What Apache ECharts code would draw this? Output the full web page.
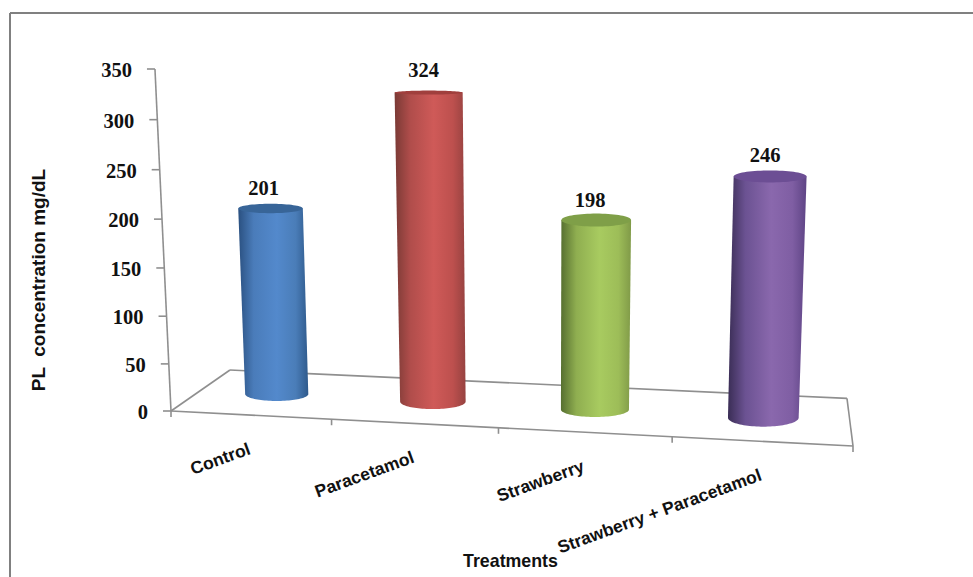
<!DOCTYPE html>
<html>
<head>
<meta charset="utf-8">
<style>html,body{margin:0;padding:0;background:#fff}#chart{width:973px;height:577px}</style>
<script src="https://cdn.jsdelivr.net/npm/echarts@6/dist/echarts.min.js"></script>
</head>
<body>
<div id="chart"></div>
<script>
// Phospholipid concentration per treatment
const categories = ['Control', 'Paracetamol', 'Strawberry', 'Strawberry + Paracetamol'];
const values = [201, 324, 198, 246];
const valueTicks = [0, 50, 100, 150, 200, 250, 300, 350];
const valueAxisName = 'PL  concentration mg/dL';
const categoryAxisName = 'Treatments';

// Cylinder shading across the body: left edge, shoulder, highlight, right shoulder, right edge; then the cap
const shades = [
  ['#2a5080', '#4a7cba', '#5389cc', '#4a7db8', '#2f5a8c', '#386598'],
  ['#7a3a35', '#b04d4b', '#cf5a58', '#bd504e', '#964240', '#a03f3d'],
  ['#566f30', '#8fae50', '#a8cb60', '#9dbd58', '#809a48', '#7f9f48'],
  ['#3a2d55', '#6b5292', '#8a68ad', '#7f5ea3', '#5e4485', '#6c4e94']
];
const capDepth = [4.7, 2, 6.5, 6];
const baseDepth = [7, 7.5, 7.5, 9];
const labelShift = [[-7, -20], [-5, -23], [-6, -20], [-5, -21]];

const GRID = { left: 171, top: 69, width: 682, height: 341 };
const SERIF = '"Liberation Serif", serif';
const SANS = '"Liberation Sans", sans-serif';
const LINE = '#8f8f8f';
const DEG = Math.PI / 180;

// Oblique view: the plot's floor is a quad, uprights lean towards a far vanishing point
const floor = [[171, 411], [853, 446], [847, 398.4], [230, 370]];
const vanish = [541, 8300];
const topOfAxisY = 69;
const view = (function () {
  const [p0, p1, p2, p3] = floor;
  const dx1 = p1[0] - p2[0], dx2 = p3[0] - p2[0], sx = p0[0] - p1[0] + p2[0] - p3[0];
  const dy1 = p1[1] - p2[1], dy2 = p3[1] - p2[1], sy = p0[1] - p1[1] + p2[1] - p3[1];
  const den = dx1 * dy2 - dx2 * dy1;
  const g = (sx * dy2 - dx2 * sy) / den, h = (dx1 * sy - sx * dy1) / den;
  return {
    a: p1[0] - p0[0] + g * p1[0], b: p3[0] - p0[0] + h * p3[0], c: p0[0],
    d: p1[1] - p0[1] + g * p1[1], e: p3[1] - p0[1] + h * p3[1], f: p0[1],
    g: g, h: h, l: (topOfAxisY - p0[1]) / (vanish[1] - topOfAxisY)
  };
})();
function project(u, v, z) {
  const m = view, w = m.g * u + m.h * v + 1 + m.l * z;
  return [
    (m.a * u + m.b * v + m.c + m.l * vanish[0] * z) / w,
    (m.d * u + m.e * v + m.f + m.l * vanish[1] * z) / w
  ];
}
// Turns a position on the flat cartesian system into fractions of the plot box
function toPlot(api, params, cat, val) {
  const pt = api.coord([cat, val]);
  const cs = params.coordSys;
  return [(pt[0] - cs.x) / cs.width, (cs.y + cs.height - pt[1]) / cs.height];
}
function edgeLine(a, b) {
  return {
    type: 'line',
    shape: { x1: a[0], y1: a[1], x2: b[0], y2: b[1] },
    style: { stroke: LINE, lineWidth: 1.6 }
  };
}

const DEPTH = 0.48, RADIUS = 0.0515;

function drawCylinder(params, api) {
  const i = api.value(0), val = api.value(1);
  const [u, z] = toPlot(api, params, i, val);
  const base = project(u, DEPTH, 0), top = project(u, DEPTH, z);
  const halfAt = function (zz) {
    return (project(u + RADIUS, DEPTH, zz)[0] - project(u - RADIUS, DEPTH, zz)[0]) / 2;
  };
  const hb = halfAt(0), ht = halfAt(z);
  const pal = shades[i];
  const body = [[top[0] - ht, top[1]], [top[0] + ht, top[1]]];
  for (let t = 0; t <= 48; t++) {
    const ang = Math.PI * t / 48;
    body.push([base[0] + hb * Math.cos(ang), base[1] + baseDepth[i] * Math.sin(ang)]);
  }
  const cap = [];
  for (let t = 0; t < 72; t++) {
    const ang = 2 * Math.PI * t / 72;
    cap.push([top[0] + ht * Math.cos(ang), top[1] + capDepth[i] * Math.sin(ang)]);
  }
  return {
    type: 'group',
    children: [
      {
        type: 'polygon',
        shape: { points: body },
        style: {
          fill: new echarts.graphic.LinearGradient(0, 0, 1, 0, [
            { offset: 0, color: pal[0] },
            { offset: 0.22, color: pal[1] },
            { offset: 0.55, color: pal[2] },
            { offset: 0.82, color: pal[3] },
            { offset: 1, color: pal[4] }
          ])
        }
      },
      { type: 'polygon', shape: { points: cap }, style: { fill: pal[5] } },
      {
        type: 'text',
        x: top[0] + labelShift[i][0],
        y: top[1] + labelShift[i][1],
        style: {
          text: String(val), align: 'center', verticalAlign: 'middle',
          font: 'bold 20.5px ' + SERIF, fill: '#111'
        }
      }
    ]
  };
}

function drawValueTick(params, api) {
  const val = api.value(0);
  const z = toPlot(api, params, 0, val)[1];
  const p = project(0, 0, z);
  return {
    type: 'group',
    children: [
      edgeLine([p[0] - 8, p[1]], p),
      {
        type: 'text', x: p[0] - 23, y: p[1] + 1,
        style: {
          text: String(val), align: 'right', verticalAlign: 'middle',
          font: 'bold 20.5px ' + SERIF, fill: '#111'
        }
      }
    ]
  };
}

function drawCategoryTick(params, api) {
  const i = api.value(0);
  const cs = params.coordSys;
  const left = (api.coord([i, 0])[0] - cs.x) / cs.width - 0.125;
  const pts = [project(left, 0, 0)];
  const kids = [edgeLine(pts[0], [pts[0][0], pts[0][1] + 6])];
  if (i === categories.length - 1) {
    const end = project(left + 0.25, 0, 0);
    kids.push(edgeLine(end, [end[0], end[1] + 6]));
  }
  const mid = project(left + 0.125, 0, 0);
  kids.push({
    type: 'text', x: mid[0] - 1, y: mid[1] + 33, rotation: 20 * DEG,
    style: {
      text: categories[i], align: 'right', verticalAlign: 'middle',
      font: 'bold 17.5px ' + SANS, fill: '#111'
    }
  });
  return { type: 'group', children: kids };
}

function drawFrameOfAxes() {
  const o = project(0, 0, 0), x = project(1, 0, 0), xb = project(1, 1, 0),
        ob = project(0, 1, 0), t = project(0, 0, 1);
  return {
    type: 'group',
    children: [edgeLine(o, x), edgeLine(x, xb), edgeLine(xb, ob), edgeLine(ob, o), edgeLine(o, t)]
  };
}

const chart = echarts.init(document.getElementById('chart'), null, { renderer: 'svg' });
chart.setOption({
  animation: false,
  backgroundColor: '#fff',
  tooltip: { show: false },
  grid: Object.assign({ containLabel: false }, GRID),
  xAxis: { type: 'category', data: categories, show: false },
  yAxis: { type: 'value', min: 0, max: 350, interval: 50, show: false },
  graphic: [
    { type: 'line', shape: { x1: 10, y1: 13, x2: 973, y2: 13 }, style: { stroke: '#808080', lineWidth: 2 } },
    { type: 'line', shape: { x1: 10, y1: 13, x2: 10, y2: 577 }, style: { stroke: '#808080', lineWidth: 2 } },
    {
      type: 'text', x: 38.5, y: 280, rotation: 90 * DEG,
      style: { text: valueAxisName, align: 'center', verticalAlign: 'middle', font: 'bold 19px ' + SANS, fill: '#111' }
    },
    {
      type: 'text', x: 510.5, y: 561,
      style: { text: categoryAxisName, align: 'center', verticalAlign: 'middle', font: 'bold 17.8px ' + SANS, fill: '#111' }
    }
  ],
  series: [
    { type: 'custom', renderItem: drawFrameOfAxes, data: [0], silent: true, z: 1, clip: false },
    { type: 'custom', renderItem: drawValueTick, data: valueTicks.map(v => [v]), encode: { y: 0 }, silent: true, z: 2, clip: false },
    { type: 'custom', renderItem: drawCategoryTick, data: categories.map((c, i) => [i]), encode: { x: 0 }, silent: true, z: 2, clip: false },
    { type: 'custom', renderItem: drawCylinder, data: values.map((v, i) => [i, v]), encode: { x: 0, y: 1 }, silent: true, z: 3, clip: false }
  ]
});
</script>
</body>
</html>
